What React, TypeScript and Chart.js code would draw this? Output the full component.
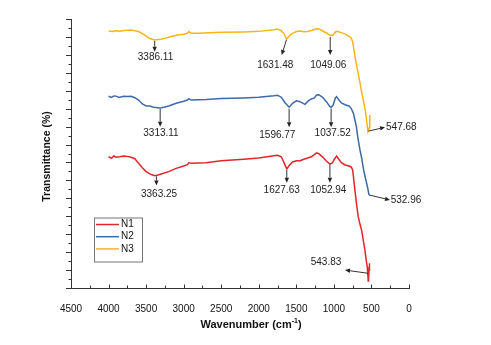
import React, { useEffect, useRef } from "react";
import { Chart, registerables } from "chart.js";

Chart.register(...registerables);

const FONT = "'Liberation Sans', Arial, sans-serif";

// N1 (red)
const n1Wave = [4000, 3960, 3930, 3900, 3850, 3800, 3750, 3700, 3650, 3600, 3550, 3500, 3450, 3400, 3363, 3300, 3200, 3100, 3000, 2950, 2930, 2900, 2700, 2500, 2200, 2000, 1800, 1750, 1700, 1660, 1627, 1590, 1550, 1500, 1450, 1400, 1300, 1230, 1200, 1150, 1100, 1053, 1020, 1000, 964, 940, 900, 850, 800, 770, 750, 735, 720, 700, 676, 650, 631, 610, 587, 570, 556, 548, 543, 538, 532, 526];
const n1Trans = [7.32, 7.23, 7.36, 7.29, 7.32, 7.36, 7.34, 7.29, 7.21, 6.95, 6.71, 6.49, 6.36, 6.28, 6.28, 6.36, 6.49, 6.67, 6.8, 6.88, 6.99, 6.95, 6.99, 7.1, 7.18, 7.25, 7.38, 7.4, 7.32, 6.95, 6.64, 6.86, 7.03, 7.1, 7.1, 7.18, 7.32, 7.54, 7.49, 7.3, 7.08, 6.91, 6.97, 7.14, 7.36, 7.21, 6.99, 6.86, 6.8, 6.75, 6.58, 6.02, 5.46, 4.74, 3.98, 3.51, 3.23, 2.68, 2.12, 1.56, 1.19, 0.72, 0.39, 0.56, 1.0, 1.38];

// N2 (blue)
const n2Wave = [4000, 3960, 3930, 3900, 3860, 3800, 3750, 3700, 3650, 3600, 3550, 3500, 3450, 3400, 3313, 3250, 3200, 3100, 3000, 2950, 2930, 2900, 2700, 2500, 2200, 2000, 1800, 1750, 1700, 1650, 1596, 1550, 1500, 1450, 1385, 1340, 1300, 1260, 1230, 1200, 1150, 1100, 1060, 1037, 1010, 980, 964, 940, 900, 850, 800, 770, 740, 720, 700, 680, 653, 630, 613, 590, 568, 550, 533];
const n2Trans = [10.69, 10.63, 10.71, 10.7, 10.63, 10.69, 10.68, 10.69, 10.61, 10.48, 10.26, 10.15, 10.15, 10.08, 10.04, 10.09, 10.15, 10.3, 10.41, 10.48, 10.56, 10.48, 10.51, 10.56, 10.6, 10.63, 10.72, 10.75, 10.63, 10.33, 10.08, 10.3, 10.44, 10.39, 10.24, 10.43, 10.54, 10.6, 10.76, 10.78, 10.63, 10.39, 10.15, 10.07, 10.2, 10.6, 10.67, 10.52, 10.32, 10.22, 10.15, 10.02, 9.74, 9.37, 8.98, 8.36, 7.7, 7.25, 6.8, 6.3, 5.91, 5.58, 5.19];

// N3 (yellow)
const n3Wave = [4000, 3950, 3900, 3850, 3800, 3750, 3700, 3650, 3600, 3550, 3500, 3450, 3386, 3340, 3300, 3200, 3100, 3000, 2950, 2930, 2900, 2800, 2500, 2200, 2000, 1800, 1750, 1700, 1660, 1631, 1580, 1550, 1500, 1450, 1400, 1350, 1300, 1230, 1200, 1150, 1100, 1049, 1020, 1000, 970, 950, 900, 850, 800, 770, 750, 720, 690, 650, 630, 600, 580, 560, 547, 540, 530, 525, 520];
const n3Trans = [14.33, 14.31, 14.34, 14.32, 14.36, 14.37, 14.39, 14.35, 14.3, 14.19, 14.05, 13.91, 13.83, 13.86, 13.87, 13.98, 14.09, 14.15, 14.22, 14.3, 14.2, 14.2, 14.26, 14.28, 14.31, 14.4, 14.44, 14.35, 14.16, 13.88, 14.11, 14.2, 14.3, 14.33, 14.29, 14.3, 14.36, 14.46, 14.44, 14.33, 14.22, 14.09, 14.08, 14.16, 14.31, 14.3, 14.24, 14.16, 14.05, 13.94, 13.72, 12.95, 12.25, 11.4, 10.9, 10.3, 9.85, 9.2, 8.7, 8.75, 8.92, 9.37, 9.65];

const seriesNames = ["N1", "N2", "N3"];
const seriesColors = ["#e3252b", "#3e6aa6", "#f6b51a"];

const xTickLabels = [4500, 4000, 3500, 3000, 2500, 2000, 1500, 1000, 500, 0];

// peak annotations: label, arrow start (x,y), arrow end (x,y), label anchor (x,y), align
const peakLabels = ["3386.11", "1631.48", "1049.06", "547.68", "3313.11", "1596.77", "1037.52", "532.96", "3363.25", "1627.63", "1052.94", "543.83"];
const arrowFromX = [3386, 1631, 1049, 540, 3313, 1596, 1037, 533, 3363, 1627, 1053, 543];
const arrowFromY = [13.78, 13.84, 14.0, 8.75, 9.99, 10.0, 10.0, 5.19, 6.23, 6.58, 6.88, 0.82];
const arrowToX = [3386, 1695, 1049, 319, 3313, 1596, 1037, 253, 3363, 1627, 1053, 852];
const arrowToY = [13.18, 12.99, 12.99, 8.96, 8.99, 8.96, 8.96, 4.91, 5.72, 5.87, 5.87, 1.0];
const labelX = [3375, 1780, 1074, 306, 3302, 1753, 1016, 244, 3328, 1695, 1074, 1105];
const labelY = [12.86, 12.42, 12.42, 8.98, 8.63, 8.53, 8.64, 4.91, 5.24, 5.46, 5.43, 1.41];
const labelAlign = ["center", "center", "center", "left", "center", "center", "center", "left", "center", "center", "center", "center"];

const overlay = {
  id: "overlay",
  afterDraw(chart: any) {
    const ctx = chart.ctx as CanvasRenderingContext2D;
    const xs = chart.scales.x;
    const ys = chart.scales.y;
    const area = chart.chartArea;
    ctx.save();

    // axis ticks
    ctx.strokeStyle = "#333";
    ctx.lineWidth = 1;
    for (let v = 0; v <= 4500; v += 250) {
      const px = Math.round(xs.getPixelForValue(v)) + 0.5;
      const len = v % 500 === 0 ? 3.5 : 2.5;
      ctx.beginPath();
      ctx.moveTo(px, area.bottom);
      ctx.lineTo(px, area.bottom - len);
      ctx.stroke();
    }
    for (let i = 0; i <= 30; i++) {
      const v = i * 0.5;
      const py = Math.round(ys.getPixelForValue(v)) + 0.5;
      const len = i % 2 === 0 ? 5 : 2.5;
      ctx.beginPath();
      ctx.moveTo(area.left, py);
      ctx.lineTo(area.left - len, py);
      ctx.stroke();
    }

    // annotations
    ctx.fillStyle = "#222";
    ctx.strokeStyle = "#333";
    for (let i = 0; i < peakLabels.length; i++) {
      const x1 = xs.getPixelForValue(arrowFromX[i]);
      const y1 = ys.getPixelForValue(arrowFromY[i]);
      const x2 = xs.getPixelForValue(arrowToX[i]);
      const y2 = ys.getPixelForValue(arrowToY[i]);
      const ang = Math.atan2(y2 - y1, x2 - x1);
      const hl = 5, hw = 2.2;
      const bx = x2 - hl * Math.cos(ang);
      const by = y2 - hl * Math.sin(ang);
      ctx.lineWidth = 1;
      ctx.beginPath();
      ctx.moveTo(x1, y1);
      ctx.lineTo(bx, by);
      ctx.stroke();
      ctx.beginPath();
      ctx.moveTo(x2, y2);
      ctx.lineTo(bx + hw * Math.sin(ang), by - hw * Math.cos(ang));
      ctx.lineTo(bx - hw * Math.sin(ang), by + hw * Math.cos(ang));
      ctx.closePath();
      ctx.fill();

      ctx.font = `10px ${FONT}`;
      ctx.textAlign = labelAlign[i] as CanvasTextAlign;
      ctx.textBaseline = "middle";
      ctx.fillText(peakLabels[i], xs.getPixelForValue(labelX[i]), ys.getPixelForValue(labelY[i]));
    }

    // legend
    const lx = area.left + 23, ly = area.top + 198.5, lw = 48, lh = 44;
    ctx.strokeStyle = "#777";
    ctx.lineWidth = 1;
    ctx.strokeRect(lx + 0.5, ly + 0.5, lw, lh);
    ctx.font = `10px ${FONT}`;
    ctx.textAlign = "left";
    ctx.textBaseline = "middle";
    for (let i = 0; i < seriesNames.length; i++) {
      const yy = ly + 7 + i * 12.2;
      ctx.strokeStyle = seriesColors[i];
      ctx.lineWidth = 1.5;
      ctx.beginPath();
      ctx.moveTo(lx + 2, yy);
      ctx.lineTo(lx + 25, yy);
      ctx.stroke();
      ctx.fillStyle = "#111";
      ctx.fillText(seriesNames[i], lx + 27, yy);
    }

    // axis titles
    ctx.fillStyle = "#111";
    ctx.save();
    ctx.translate(47.5, (area.top + area.bottom) / 2 + 3);
    ctx.rotate(-Math.PI / 2);
    ctx.font = `bold 10.5px ${FONT}`;
    ctx.textAlign = "center";
    ctx.textBaseline = "middle";
    ctx.fillText("Transmittance (%)", 0, 0);
    ctx.restore();

    const t1 = "Wavenumber (cm";
    const t2 = "-1";
    const t3 = ")";
    ctx.font = `bold 11px ${FONT}`;
    const w1 = ctx.measureText(t1).width;
    const w3 = ctx.measureText(t3).width;
    ctx.font = `bold 7px ${FONT}`;
    const w2 = ctx.measureText(t2).width;
    const total = w1 + w2 + w3;
    let tx = (area.left + area.right) / 2 + 11 - total / 2;
    const ty = 325;
    ctx.textAlign = "left";
    ctx.textBaseline = "middle";
    ctx.font = `bold 11px ${FONT}`;
    ctx.fillText(t1, tx, ty);
    tx += w1;
    ctx.font = `bold 7px ${FONT}`;
    ctx.fillText(t2, tx, ty - 4);
    tx += w2;
    ctx.font = `bold 11px ${FONT}`;
    ctx.fillText(t3, tx, ty);

    ctx.restore();
  },
};

export default function App() {
  const ref = useRef<HTMLCanvasElement>(null);
  useEffect(() => {
    if (!ref.current) return;
    const mk = (w: number[], t: number[]) => w.map((x, i) => ({ x, y: t[i] }));
    const chart = new Chart(ref.current, {
      type: "line",
      data: {
        datasets: [
          { label: seriesNames[0], data: mk(n1Wave, n1Trans), borderColor: seriesColors[0], borderWidth: 1.5, pointRadius: 0, tension: 0 },
          { label: seriesNames[1], data: mk(n2Wave, n2Trans), borderColor: seriesColors[1], borderWidth: 1.5, pointRadius: 0, tension: 0 },
          { label: seriesNames[2], data: mk(n3Wave, n3Trans), borderColor: seriesColors[2], borderWidth: 1.5, pointRadius: 0, tension: 0 },
        ],
      },
      options: {
        responsive: false,
        animation: false,
        devicePixelRatio: 1,
        layout: { padding: { left: 0, right: 82, top: 19, bottom: 0 } },
        plugins: { legend: { display: false }, tooltip: { enabled: false } },
        scales: {
          x: {
            type: "linear",
            reverse: true,
            min: 0,
            max: 4500,
            afterBuildTicks: (s: any) => {
              s.ticks = xTickLabels.map((v) => ({ value: v }));
            },
            ticks: {
              callback: (v: any) => String(v),
              font: { size: 10, family: FONT },
              color: "#111",
              padding: 7,
              maxRotation: 0,
              autoSkip: false,
            },
            grid: { display: false },
            border: { display: true, color: "#333", width: 1 },
            afterFit: (s: any) => {
              s.height = 57;
            },
          },
          y: {
            min: 0,
            max: 15,
            ticks: { display: false },
            grid: { display: false },
            border: { display: true, color: "#333", width: 1 },
            afterFit: (s: any) => {
              s.width = 71;
            },
          },
        },
      },
      plugins: [overlay],
    });
    return () => chart.destroy();
  }, []);
  return (
    <div style={{ position: "fixed", left: 0, top: 0, width: 491, height: 345, background: "#fff" }}>
      <canvas ref={ref} width={491} height={345} style={{ width: 491, height: 345, display: "block" }} />
    </div>
  );
}
